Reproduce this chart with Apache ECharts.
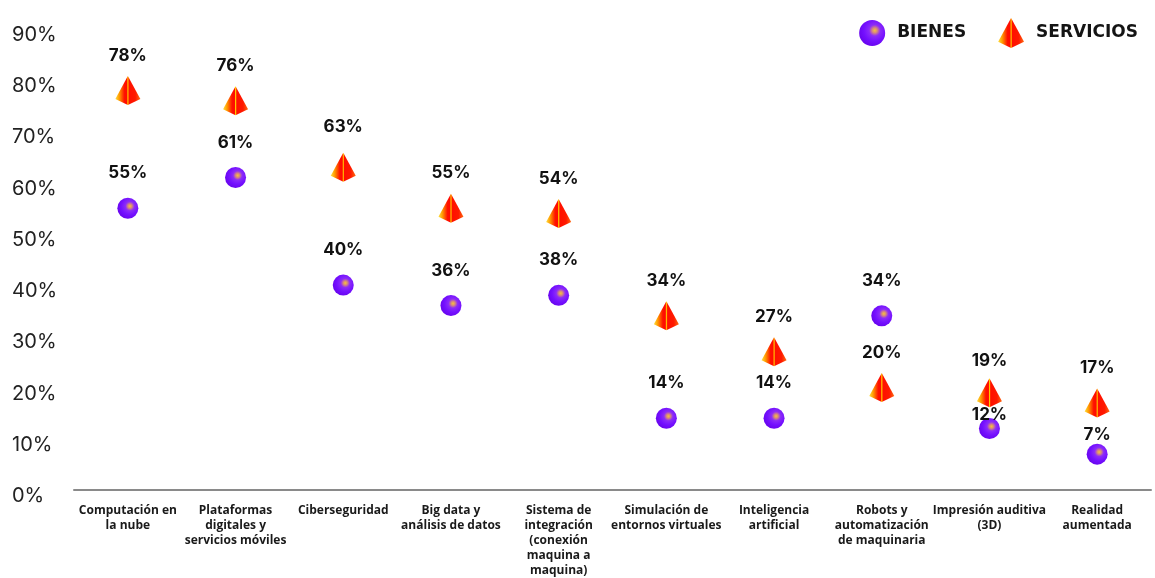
<!DOCTYPE html>
<html>
<head>
<meta charset="utf-8">
<script src="https://cdn.jsdelivr.net/npm/echarts@6/dist/echarts.min.js"></script>
<style>
  html, body { margin: 0; padding: 0; background: #ffffff; }
  #chart { width: 1155px; height: 578px; }
</style>
</head>
<body>
<div id="chart"></div>
<script>
// Technology adoption shares, goods vs. services
const categories = [
  'Computación en\nla nube',
  'Plataformas\ndigitales y\nservicios móviles',
  'Ciberseguridad',
  'Big data y\nanálisis de datos',
  'Sistema de\nintegración\n(conexión\nmaquina a\nmaquina)',
  'Simulación de\nentornos virtuales',
  'Inteligencia\nartificial',
  'Robots y\nautomatización\nde maquinaria',
  'Impresión auditiva\n(3D)',
  'Realidad\naumentada'
];
const bienes = [55, 61, 40, 36, 38, 14, 14, 34, 12, 7];
const servicios = [78, 76, 63, 55, 54, 34, 27, 20, 19, 17];

// vertical lift of value labels above their marker (px); a few are tucked closer
const DEFAULT_LIFT = -35;
const bienesLift = { 8: -14, 9: -19 };
const serviciosLift = { 2: -40, 8: -32 };

const sphereFill = {
  type: 'radial', x: 0.6, y: 0.4, r: 0.6,
  colorStops: [
    { offset: 0, color: '#f6c23a' },
    { offset: 0.16, color: '#d88a7a' },
    { offset: 0.36, color: '#8c2cf8' },
    { offset: 0.7, color: '#7410ff' },
    { offset: 1, color: '#6a06f0' }
  ]
};
const pyramidFill = {
  type: 'linear', x: 0, y: 0, x2: 1, y2: 0,
  colorStops: [
    { offset: 0, color: '#ffe040' },
    { offset: 0.16, color: '#ff9a00' },
    { offset: 0.36, color: '#ff1200' },
    { offset: 0.46, color: '#ff0a00' },
    { offset: 0.5, color: '#ffd000' },
    { offset: 0.55, color: '#ff1000' },
    { offset: 0.8, color: '#ff1a00' },
    { offset: 1, color: '#ff6a10' }
  ]
};
const pyramidPath = 'path://M0,0 L-12.5,23 L0,29 L12.5,23 Z';

function withLabels(values, lift) {
  return values.map((v, i) => ({
    value: v,
    label: { offset: [0, lift[i] !== undefined ? lift[i] : DEFAULT_LIFT] }
  }));
}

const valueLabel = {
  show: true,
  position: 'inside',
  formatter: '{c}%',
  fontFamily: 'Inter',
  fontWeight: 'bold',
  fontSize: 17,
  color: '#111111'
};

const chart = echarts.init(document.getElementById('chart'));
chart.setOption({
  animation: false,
  backgroundColor: '#ffffff',
  grid: { left: 74, right: 4, top: 29, bottom: 85 },
  legend: {
    right: 12,
    top: 13,
    itemWidth: 26,
    itemHeight: 30,
    itemGap: 32,
    textStyle: {
      fontFamily: 'DejaVu Sans', fontWeight: 'bold', fontSize: 17, color: '#141414',
      padding: [0, 0, 0, 7]
    },
    data: [
      { name: 'BIENES', icon: 'circle' },
      { name: 'SERVICIOS', icon: pyramidPath }
    ]
  },
  xAxis: {
    type: 'category',
    data: categories,
    axisLine: { show: true, lineStyle: { color: '#8a8a8a', width: 2 } },
    axisTick: { show: false },
    axisLabel: {
      interval: 0,
      margin: 13,
      fontFamily: 'Open Sans',
      fontWeight: 'bold',
      fontSize: 12,
      lineHeight: 15,
      color: '#1a1a1a'
    }
  },
  yAxis: {
    type: 'value',
    min: 0,
    max: 90,
    interval: 10,
    splitLine: { show: false },
    axisLine: { show: false },
    axisTick: { show: false },
    axisLabel: {
      formatter: '{value}%',
      align: 'left',
      verticalAlign: 'top',
      lineHeight: 12,
      margin: 62,
      fontFamily: 'Inter',
      fontSize: 20,
      color: '#222222'
    }
  },
  series: [
    {
      name: 'BIENES',
      type: 'scatter',
      symbol: 'circle',
      symbolSize: 21,
      itemStyle: { color: sphereFill, opacity: 1 },
      label: valueLabel,
      data: withLabels(bienes, bienesLift)
    },
    {
      name: 'SERVICIOS',
      type: 'scatter',
      symbol: pyramidPath,
      symbolSize: [25, 29],
      itemStyle: { color: pyramidFill, opacity: 1 },
      label: valueLabel,
      data: withLabels(servicios, serviciosLift)
    }
  ]
});
</script>
</body>
</html>
